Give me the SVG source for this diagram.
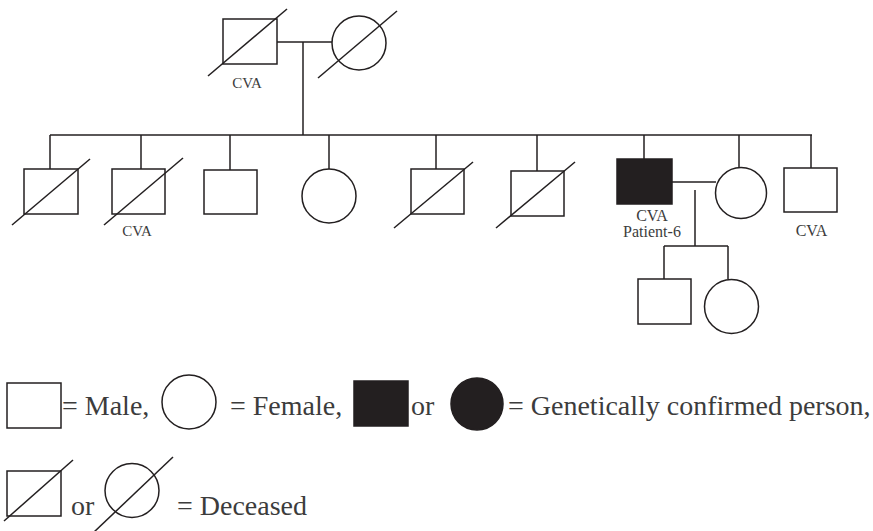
<svg xmlns="http://www.w3.org/2000/svg" width="873" height="531" viewBox="0 0 873 531">
<style>
.s{fill:none;stroke:#231f20;stroke-width:1.5}
.f{fill:#231f20;stroke:#231f20;stroke-width:1.5}
.d{stroke:#231f20;stroke-width:1.5;fill:none}
.t{font-family:"Liberation Serif","Times New Roman",serif;fill:#3c3c3c}
.lbl{font-size:15px;text-anchor:middle}
.lbl2{font-size:16px;text-anchor:middle}
.leg{font-size:28px}
</style>
<rect width="873" height="531" fill="#fff"/>
<g id="connectors" class="d">
<path d="M277,42 H332"/>
<path d="M303,42 V135"/>
<path d="M50,135 H812"/>
<path d="M50,135 V169"/>
<path d="M141,135 V169"/>
<path d="M230,135 V170"/>
<path d="M329,135 V169"/>
<path d="M436,135 V169"/>
<path d="M537,135 V171"/>
<path d="M644,135 V159"/>
<path d="M739,135 V168"/>
<path d="M811,135 V168"/>
<path d="M672,182 H716"/>
<path d="M695,190 V246"/>
<path d="M664,246 H728"/>
<path d="M664,246 V279"/>
<path d="M728,246 V279"/>
</g>
<g id="grandfather">
<rect class="s" x="223" y="19" width="54" height="45"/>
<line class="d" x1="208" y1="76" x2="287" y2="9"/>
<text class="t lbl" x="247" y="88">CVA</text>
</g>
<g id="grandmother">
<circle class="s" cx="359" cy="43" r="27"/>
<line class="d" x1="318" y1="78" x2="397" y2="11"/>
</g>
<g id="sib1">
<rect class="s" x="24" y="169" width="54" height="45"/>
<line class="d" x1="12" y1="225" x2="90" y2="159"/>
</g>
<g id="sib2">
<rect class="s" x="112" y="169" width="53" height="45"/>
<line class="d" x1="104" y1="225" x2="183" y2="158"/>
<text class="t lbl" x="137" y="236">CVA</text>
</g>
<g id="sib3">
<rect class="s" x="204" y="170" width="53" height="44"/>
</g>
<g id="sib4">
<circle class="s" cx="329" cy="196" r="27"/>
</g>
<g id="sib5">
<rect class="s" x="411" y="169" width="53" height="45"/>
<line class="d" x1="394" y1="228" x2="473" y2="162"/>
</g>
<g id="sib6">
<rect class="s" x="511" y="171" width="53" height="45"/>
<line class="d" x1="496" y1="228" x2="575" y2="162"/>
</g>
<g id="patient6">
<rect class="f" x="617" y="159" width="55" height="45"/>
<text class="t lbl2" x="652" y="221">CVA</text>
<text class="t lbl2" x="652" y="237">Patient-6</text>
</g>
<g id="wife">
<circle class="s" cx="741" cy="193" r="25.5"/>
</g>
<g id="sib9">
<rect class="s" x="784" y="168" width="53" height="44"/>
<text class="t lbl2" x="811.5" y="236">CVA</text>
</g>
<g id="child1">
<rect class="s" x="638" y="279" width="53" height="45"/>
</g>
<g id="child2">
<circle class="s" cx="731.5" cy="306.5" r="27"/>
</g>
<g id="legend">
<rect class="s" x="7" y="383" width="54" height="45"/>
<text class="t leg" x="62" y="415">= Male,</text>
<circle class="s" cx="189" cy="402" r="27"/>
<text class="t leg" x="230" y="415">= Female,</text>
<rect class="f" x="354" y="381" width="54" height="45"/>
<text class="t leg" x="411" y="415">or</text>
<circle class="f" cx="477" cy="404" r="26"/>
<text class="t leg" x="508" y="415">= Genetically confirmed person,</text>
<rect class="s" x="7" y="471" width="54" height="45"/>
<line class="d" x1="4" y1="521" x2="73" y2="460"/>
<text class="t leg" x="71" y="515">or</text>
<circle class="s" cx="132" cy="490.5" r="27"/>
<line class="d" x1="93" y1="533" x2="173" y2="457"/>
<text class="t leg" x="177" y="515">= Deceased</text>
</g>
</svg>
